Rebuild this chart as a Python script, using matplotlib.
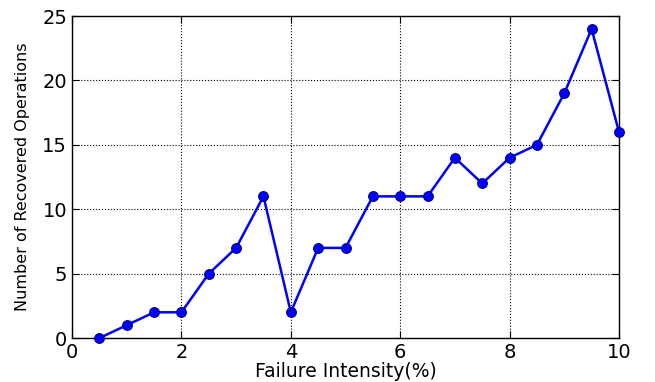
import numpy as np
from matplotlib import pyplot as plt

intensity = [0.5, 1.0, 1.5, 2.0, 2.5, 3.0, 3.5, 4.0, 4.5, 5.0,
             5.5, 6.0, 6.5, 7.0, 7.5, 8.0, 8.5, 9.0, 9.5, 10.0]
recovered = [0, 1, 2, 2, 5, 7, 11, 2, 7, 7,
             11, 11, 11, 14, 12, 14, 15, 19, 24, 16]

fig = plt.figure(figsize=(6.55, 3.82), dpi=100)
ax = fig.add_axes([0.110, 0.115, 0.835, 0.843])

ax.plot(intensity, recovered, color="blue", lw=1.8, marker="o", ms=7,
        mfc="blue", mec="#000080", mew=0.8, clip_on=False, zorder=3)

ax.set_xlim(0, 10)
ax.set_ylim(0, 25)
ax.set_xticks([0, 2, 4, 6, 8, 10])
ax.set_yticks([0, 5, 10, 15, 20, 25])
ax.grid(True, linestyle=":", color="black", lw=0.8)
ax.tick_params(direction="in", labelsize=14, length=5, top=True, right=True)
for s in ax.spines.values():
    s.set_linewidth(1.0)

ax.set_xlabel("Failure Intensity(%)", fontsize=13.5, labelpad=0)
ax.set_ylabel("Number of Recovered Operations", fontsize=11.5,
              family="Liberation Sans Narrow", labelpad=9)

fig.savefig("out.png", dpi=100)
